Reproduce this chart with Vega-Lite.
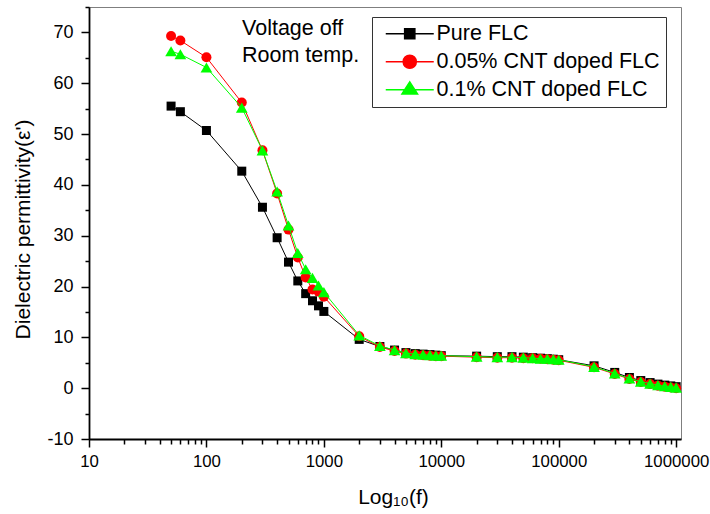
{
  "$schema": "https://vega.github.io/schema/vega-lite/v6.json",
  "width": 592,
  "height": 432,
  "autosize": {"type": "none"},
  "padding": {"left": 89, "top": 7, "right": 29, "bottom": 75},
  "config": {
    "font": "Liberation Sans",
    "view": {"stroke": "#7f7f7f", "strokeWidth": 1},
    "axis": {"grid": false}
  },
  "data": {
    "values": [
      {"f": 50, "s": "Pure FLC", "eps": 55.5},
      {"f": 60, "s": "Pure FLC", "eps": 54.4},
      {"f": 100, "s": "Pure FLC", "eps": 50.7},
      {"f": 200, "s": "Pure FLC", "eps": 42.7},
      {"f": 300, "s": "Pure FLC", "eps": 35.6},
      {"f": 400, "s": "Pure FLC", "eps": 29.6},
      {"f": 500, "s": "Pure FLC", "eps": 24.8},
      {"f": 600, "s": "Pure FLC", "eps": 21.1},
      {"f": 700, "s": "Pure FLC", "eps": 18.6},
      {"f": 800, "s": "Pure FLC", "eps": 17.2},
      {"f": 900, "s": "Pure FLC", "eps": 16.2},
      {"f": 1000, "s": "Pure FLC", "eps": 15.1},
      {"f": 2000, "s": "Pure FLC", "eps": 9.6},
      {"f": 3000, "s": "Pure FLC", "eps": 8.2},
      {"f": 4000, "s": "Pure FLC", "eps": 7.5},
      {"f": 5000, "s": "Pure FLC", "eps": 7.0},
      {"f": 6000, "s": "Pure FLC", "eps": 6.8},
      {"f": 7000, "s": "Pure FLC", "eps": 6.7},
      {"f": 8000, "s": "Pure FLC", "eps": 6.6},
      {"f": 9000, "s": "Pure FLC", "eps": 6.5},
      {"f": 10000, "s": "Pure FLC", "eps": 6.4},
      {"f": 20000, "s": "Pure FLC", "eps": 6.3},
      {"f": 30000, "s": "Pure FLC", "eps": 6.2},
      {"f": 40000, "s": "Pure FLC", "eps": 6.2},
      {"f": 50000, "s": "Pure FLC", "eps": 6.1},
      {"f": 60000, "s": "Pure FLC", "eps": 6.0},
      {"f": 70000, "s": "Pure FLC", "eps": 5.9},
      {"f": 80000, "s": "Pure FLC", "eps": 5.8},
      {"f": 90000, "s": "Pure FLC", "eps": 5.7},
      {"f": 100000, "s": "Pure FLC", "eps": 5.6},
      {"f": 200000, "s": "Pure FLC", "eps": 4.4},
      {"f": 300000, "s": "Pure FLC", "eps": 3.1},
      {"f": 400000, "s": "Pure FLC", "eps": 2.1},
      {"f": 500000, "s": "Pure FLC", "eps": 1.5},
      {"f": 600000, "s": "Pure FLC", "eps": 1.1},
      {"f": 700000, "s": "Pure FLC", "eps": 0.8},
      {"f": 800000, "s": "Pure FLC", "eps": 0.6},
      {"f": 900000, "s": "Pure FLC", "eps": 0.45},
      {"f": 1000000, "s": "Pure FLC", "eps": 0.3},
      {"f": 50, "s": "0.05% CNT doped FLC", "eps": 69.3},
      {"f": 60, "s": "0.05% CNT doped FLC", "eps": 68.4},
      {"f": 100, "s": "0.05% CNT doped FLC", "eps": 65.1},
      {"f": 200, "s": "0.05% CNT doped FLC", "eps": 56.2},
      {"f": 300, "s": "0.05% CNT doped FLC", "eps": 46.8},
      {"f": 400, "s": "0.05% CNT doped FLC", "eps": 38.3},
      {"f": 500, "s": "0.05% CNT doped FLC", "eps": 31.2},
      {"f": 600, "s": "0.05% CNT doped FLC", "eps": 25.7},
      {"f": 700, "s": "0.05% CNT doped FLC", "eps": 21.8},
      {"f": 800, "s": "0.05% CNT doped FLC", "eps": 19.4},
      {"f": 900, "s": "0.05% CNT doped FLC", "eps": 19.0},
      {"f": 1000, "s": "0.05% CNT doped FLC", "eps": 18.0},
      {"f": 2000, "s": "0.05% CNT doped FLC", "eps": 10.2},
      {"f": 3000, "s": "0.05% CNT doped FLC", "eps": 8.1},
      {"f": 4000, "s": "0.05% CNT doped FLC", "eps": 7.3},
      {"f": 5000, "s": "0.05% CNT doped FLC", "eps": 6.8},
      {"f": 6000, "s": "0.05% CNT doped FLC", "eps": 6.6},
      {"f": 7000, "s": "0.05% CNT doped FLC", "eps": 6.5},
      {"f": 8000, "s": "0.05% CNT doped FLC", "eps": 6.4},
      {"f": 9000, "s": "0.05% CNT doped FLC", "eps": 6.3},
      {"f": 10000, "s": "0.05% CNT doped FLC", "eps": 6.3},
      {"f": 20000, "s": "0.05% CNT doped FLC", "eps": 6.1},
      {"f": 30000, "s": "0.05% CNT doped FLC", "eps": 6.0},
      {"f": 40000, "s": "0.05% CNT doped FLC", "eps": 6.0},
      {"f": 50000, "s": "0.05% CNT doped FLC", "eps": 5.9},
      {"f": 60000, "s": "0.05% CNT doped FLC", "eps": 5.9},
      {"f": 70000, "s": "0.05% CNT doped FLC", "eps": 5.8},
      {"f": 80000, "s": "0.05% CNT doped FLC", "eps": 5.7},
      {"f": 90000, "s": "0.05% CNT doped FLC", "eps": 5.6},
      {"f": 100000, "s": "0.05% CNT doped FLC", "eps": 5.5},
      {"f": 200000, "s": "0.05% CNT doped FLC", "eps": 4.1},
      {"f": 300000, "s": "0.05% CNT doped FLC", "eps": 2.8},
      {"f": 400000, "s": "0.05% CNT doped FLC", "eps": 1.8},
      {"f": 500000, "s": "0.05% CNT doped FLC", "eps": 1.2},
      {"f": 600000, "s": "0.05% CNT doped FLC", "eps": 0.8},
      {"f": 700000, "s": "0.05% CNT doped FLC", "eps": 0.5},
      {"f": 800000, "s": "0.05% CNT doped FLC", "eps": 0.3},
      {"f": 900000, "s": "0.05% CNT doped FLC", "eps": 0.15},
      {"f": 1000000, "s": "0.05% CNT doped FLC", "eps": 0.0},
      {"f": 50, "s": "0.1% CNT doped FLC", "eps": 66.3},
      {"f": 60, "s": "0.1% CNT doped FLC", "eps": 65.7},
      {"f": 100, "s": "0.1% CNT doped FLC", "eps": 63.1},
      {"f": 200, "s": "0.1% CNT doped FLC", "eps": 55.2},
      {"f": 300, "s": "0.1% CNT doped FLC", "eps": 46.8},
      {"f": 400, "s": "0.1% CNT doped FLC", "eps": 38.7},
      {"f": 500, "s": "0.1% CNT doped FLC", "eps": 32.0},
      {"f": 600, "s": "0.1% CNT doped FLC", "eps": 26.6},
      {"f": 700, "s": "0.1% CNT doped FLC", "eps": 23.4},
      {"f": 800, "s": "0.1% CNT doped FLC", "eps": 21.7},
      {"f": 900, "s": "0.1% CNT doped FLC", "eps": 20.2},
      {"f": 1000, "s": "0.1% CNT doped FLC", "eps": 18.9},
      {"f": 2000, "s": "0.1% CNT doped FLC", "eps": 10.4},
      {"f": 3000, "s": "0.1% CNT doped FLC", "eps": 8.3},
      {"f": 4000, "s": "0.1% CNT doped FLC", "eps": 7.5},
      {"f": 5000, "s": "0.1% CNT doped FLC", "eps": 6.9},
      {"f": 6000, "s": "0.1% CNT doped FLC", "eps": 6.7},
      {"f": 7000, "s": "0.1% CNT doped FLC", "eps": 6.6},
      {"f": 8000, "s": "0.1% CNT doped FLC", "eps": 6.5},
      {"f": 9000, "s": "0.1% CNT doped FLC", "eps": 6.4},
      {"f": 10000, "s": "0.1% CNT doped FLC", "eps": 6.4},
      {"f": 20000, "s": "0.1% CNT doped FLC", "eps": 6.2},
      {"f": 30000, "s": "0.1% CNT doped FLC", "eps": 6.1},
      {"f": 40000, "s": "0.1% CNT doped FLC", "eps": 6.1},
      {"f": 50000, "s": "0.1% CNT doped FLC", "eps": 6.0},
      {"f": 60000, "s": "0.1% CNT doped FLC", "eps": 5.9},
      {"f": 70000, "s": "0.1% CNT doped FLC", "eps": 5.8},
      {"f": 80000, "s": "0.1% CNT doped FLC", "eps": 5.8},
      {"f": 90000, "s": "0.1% CNT doped FLC", "eps": 5.7},
      {"f": 100000, "s": "0.1% CNT doped FLC", "eps": 5.6},
      {"f": 200000, "s": "0.1% CNT doped FLC", "eps": 4.2},
      {"f": 300000, "s": "0.1% CNT doped FLC", "eps": 2.9},
      {"f": 400000, "s": "0.1% CNT doped FLC", "eps": 1.9},
      {"f": 500000, "s": "0.1% CNT doped FLC", "eps": 1.3},
      {"f": 600000, "s": "0.1% CNT doped FLC", "eps": 0.9},
      {"f": 700000, "s": "0.1% CNT doped FLC", "eps": 0.6},
      {"f": 800000, "s": "0.1% CNT doped FLC", "eps": 0.4},
      {"f": 900000, "s": "0.1% CNT doped FLC", "eps": 0.25},
      {"f": 1000000, "s": "0.1% CNT doped FLC", "eps": 0.1}
    ]
  },
  "encoding": {
    "x": {
      "field": "f",
      "type": "quantitative",
      "scale": {"type": "log", "domain": [10, 1100000], "nice": false},
      "axis": {
        "title": "Log₁₀(f)",
        "values": [10, 20, 30, 40, 50, 60, 70, 80, 90, 100, 200, 300, 400, 500, 600, 700, 800, 900, 1000, 2000, 3000, 4000, 5000, 6000, 7000, 8000, 9000, 10000, 20000, 30000, 40000, 50000, 60000, 70000, 80000, 90000, 100000, 200000, 300000, 400000, 500000, 600000, 700000, 800000, 900000, 1000000],
        "labelExpr": "indexof([10,100,1000,10000,100000,1000000], datum.value) >= 0 ? '' + datum.value : ''",
        "tickSize": {"condition": {"test": "indexof([10,100,1000,10000,100000,1000000], datum.value) >= 0", "value": 8}, "value": 5},
        "labelFlush": false,
        "labelOverlap": false,
        "labelFontSize": 16.8,
        "labelColor": "#000000",
        "labelPadding": 6,
        "tickColor": "#000000",
        "tickWidth": 1.5,
        "domainColor": "#000000",
        "domainWidth": 1.8,
        "titleFontSize": 21,
        "titleFontWeight": "normal",
        "titleColor": "#000000",
        "titleX": 304,
        "titleY": 64,
        "titleBaseline": "alphabetic"
      }
    },
    "y": {
      "field": "eps",
      "type": "quantitative",
      "scale": {"domain": [-10, 75], "nice": false, "zero": false},
      "axis": {
        "title": "Dielectric permittivity(ε')",
        "values": [-10, -5, 0, 5, 10, 15, 20, 25, 30, 35, 40, 45, 50, 55, 60, 65, 70, 75],
        "labelExpr": "datum.value % 10 === 0 ? '' + datum.value : ''",
        "tickSize": {"condition": {"test": "datum.value % 10 === 0", "value": 8}, "value": 4},
        "labelOverlap": false,
        "labelFontSize": 18,
        "labelColor": "#000000",
        "labelPadding": 8,
        "tickColor": "#000000",
        "tickWidth": 1.5,
        "domainColor": "#000000",
        "domainWidth": 1.8,
        "titleFontSize": 21,
        "titleFontWeight": "normal",
        "titleColor": "#000000",
        "titleX": -60,
        "titleY": 222,
        "titleBaseline": "alphabetic"
      }
    }
  },
  "layer": [
    {
      "transform": [{"filter": "datum.s === 'Pure FLC'"}],
      "mark": {"type": "line", "strokeWidth": 1, "color": "#000000"}
    },
    {
      "transform": [{"filter": "datum.s === 'Pure FLC'"}],
      "mark": {"type": "point", "shape": "square", "filled": true, "size": 81, "opacity": 1, "strokeWidth": 0, "color": "#000000"}
    },
    {
      "transform": [{"filter": "datum.s === '0.05% CNT doped FLC'"}],
      "mark": {"type": "line", "strokeWidth": 1, "color": "#ff0000"}
    },
    {
      "transform": [{"filter": "datum.s === '0.05% CNT doped FLC'"}],
      "mark": {"type": "point", "shape": "circle", "filled": true, "size": 100, "opacity": 1, "strokeWidth": 0, "color": "#ff0000"}
    },
    {
      "transform": [{"filter": "datum.s === '0.1% CNT doped FLC'"}],
      "mark": {"type": "line", "strokeWidth": 1, "color": "#00ff00"}
    },
    {
      "transform": [{"filter": "datum.s === '0.1% CNT doped FLC'"}],
      "mark": {"type": "point", "shape": "triangle-up", "filled": true, "size": 137, "opacity": 1, "strokeWidth": 0, "color": "#00ff00"}
    },
    {
      "transform": [{"filter": "datum.eps > 1000"}],
      "mark": {"type": "point", "opacity": 1, "strokeWidth": 1},
      "encoding": {
        "shape": {
          "field": "s",
          "type": "nominal",
          "scale": {
            "domain": ["Pure FLC", "0.05% CNT doped FLC", "0.1% CNT doped FLC"],
            "range": [
              "M-4,0H-0.85M0.85,0H4M-0.85,-0.85H0.85V0.85H-0.85Z",
              "M-4,0H-1.1M1.1,0H4M-1.1,0A1.1,1.1,0,1,0,1.1,0A1.1,1.1,0,1,0,-1.1,0Z",
              "M-4,0H-0.9M0.9,0H4M0,-1.3L1.3,0.7H-1.3Z"
            ]
          },
          "legend": {
            "title": null,
            "orient": "none",
            "legendX": 283,
            "legendY": 10,
            "padding": 6,
            "strokeColor": "#333333",
            "fillColor": "#ffffff",
            "symbolSize": 144,
            "symbolOffset": 21,
            "labelOffset": 16,
            "labelFontSize": 21.5,
            "labelColor": "#000000",
            "labelLimit": 400,
            "rowPadding": 5
          }
        },
        "fill": {
          "field": "s",
          "type": "nominal",
          "scale": {"domain": ["Pure FLC", "0.05% CNT doped FLC", "0.1% CNT doped FLC"], "range": ["#000000", "#ff0000", "#00ff00"]}
        },
        "stroke": {
          "field": "s",
          "type": "nominal",
          "scale": {"domain": ["Pure FLC", "0.05% CNT doped FLC", "0.1% CNT doped FLC"], "range": ["#000000", "#ff0000", "#00ff00"]}
        }
      }
    },
    {
      "data": {
        "values": [
          {"f": 201, "eps": 69.5, "t": "Voltage off"},
          {"f": 201, "eps": 64.2, "t": "Room temp."}
        ]
      },
      "mark": {"type": "text", "align": "left", "baseline": "alphabetic", "fontSize": 21.5, "color": "#000000"},
      "encoding": {"text": {"field": "t", "type": "nominal"}}
    }
  ]
}
